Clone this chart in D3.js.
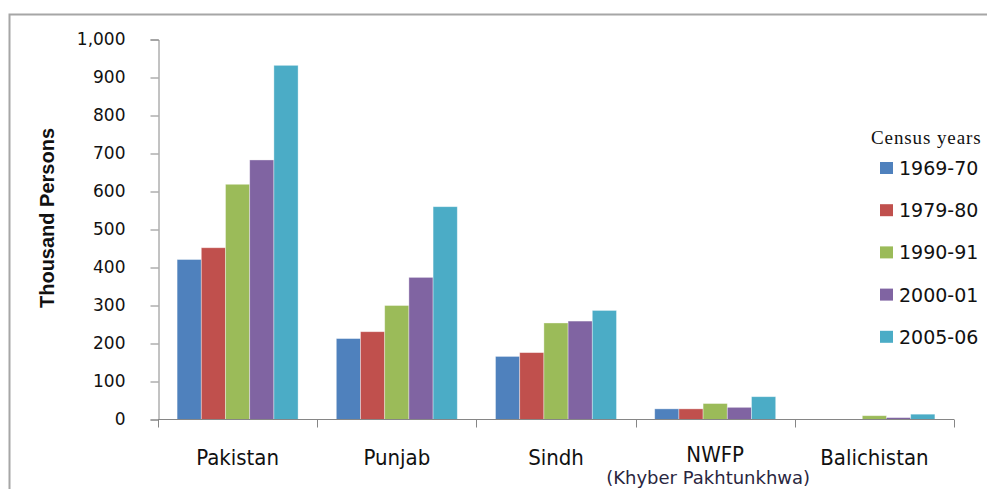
<!DOCTYPE html>
<html>
<head>
<meta charset="utf-8">
<script src="https://cdn.jsdelivr.net/npm/d3@7"></script>
<style>
  body { margin: 0; background: #fff; }
  svg { display: block; }
</style>
</head>
<body>
<div id="chart"></div>
<script>
// census data, thousand persons
const regions = ['Pakistan', 'Punjab', 'Sindh', 'NWFP', 'Balichistan'];
const years = ['1969-70', '1979-80', '1990-91', '2000-01', '2005-06'];
const colors = ['#4f81bd', '#c0504d', '#9bbb59', '#8064a2', '#4bacc6'];
const yTicks = [0, 100, 200, 300, 400, 500, 600, 700, 800, 900, 1000];

const v1969 = [421, 213, 166, 28, 0];
const v1979 = [452, 231, 176, 28, 0];
const v1990 = [619, 300, 254, 42, 10];
const v2000 = [683, 374, 259, 32, 5];
const v2005 = [932, 560, 287, 60, 14];
const seriesValues = [v1969, v1979, v1990, v2000, v2005];

const width = 987, height = 489;
const svg = d3.select('#chart').append('svg')
  .attr('width', width)
  .attr('height', height);

// outer frame (only top and left are visible in the picture)
svg.append('path')
  .attr('d', `M9.5,${height} V14.5 H${width}`)
  .attr('fill', 'none')
  .attr('stroke', '#a6a6a6')
  .attr('stroke-width', 2);

const x0 = d3.scaleBand()
  .domain(regions)
  .range([158, 954])
  .paddingInner(0.24)
  .paddingOuter(0.12);

const x1 = d3.scaleBand()
  .domain(years)
  .range([0, x0.bandwidth()]);

const y = d3.scaleLinear()
  .domain([0, 1000])
  .range([419.5, 39.5]);

// y axis
const yAxis = svg.append('g')
  .attr('transform', 'translate(158.5,0)')
  .call(d3.axisLeft(y).tickValues(yTicks).tickSize(8).tickPadding(25).tickFormat(d3.format(',')));
yAxis.select('.domain').attr('stroke', '#868686');
yAxis.selectAll('.tick line').attr('stroke', '#868686');
yAxis.selectAll('.tick text')
  .attr('font-family', 'DejaVu Sans')
  .attr('font-size', '17px')
  .attr('fill', '#111');

// bars
const rows = regions.map((r, i) => ({ region: r, vals: years.map((yr, j) => ({ year: yr, value: seriesValues[j][i], color: colors[j] })) }));

const groups = svg.append('g').selectAll('g')
  .data(rows)
  .join('g')
  .attr('transform', d => `translate(${x0(d.region)},0)`);

groups.selectAll('rect')
  .data(d => d.vals.filter(v => v.value > 0))
  .join('rect')
  .attr('x', d => x1(d.year))
  .attr('y', d => y(d.value))
  .attr('width', x1.bandwidth())
  .attr('height', d => y(0) - y(d.value))
  .attr('fill', d => d.color)
  .attr('stroke', 'rgba(255,255,255,0.45)')
  .attr('stroke-width', 0.8);

// x axis line with category boundary ticks
const step = x0.step();
const bounds = regions.map(r => x0(r) - x0.paddingOuter() * step).concat([954]);
svg.append('line')
  .attr('x1', 158).attr('x2', 954)
  .attr('y1', y(0)).attr('y2', y(0))
  .attr('stroke', '#868686');
svg.append('g').selectAll('line')
  .data(bounds)
  .join('line')
  .attr('x1', d => Math.round(d) + 0.5).attr('x2', d => Math.round(d) + 0.5)
  .attr('y1', y(0)).attr('y2', y(0) + 8)
  .attr('stroke', '#868686');

// category labels
svg.append('g').selectAll('text')
  .data(regions)
  .join('text')
  .attr('x', d => x0(d) + x0.bandwidth() / 2)
  .attr('y', d => d === 'NWFP' ? 462 : 465)
  .attr('text-anchor', 'middle')
  .attr('font-family', "'DejaVu Sans Condensed', 'DejaVu Sans'")
  .attr('font-stretch', 'condensed')
  .attr('font-size', '22px')
  .attr('fill', '#111')
  .text(d => d);

svg.append('text')
  .attr('x', x0('NWFP') + x0.bandwidth() / 2 - 7)
  .attr('y', 484)
  .attr('text-anchor', 'middle')
  .attr('font-family', 'DejaVu Sans')
  .attr('font-size', '18px')
  .attr('fill', '#2a2640')
  .text('(Khyber Pakhtunkhwa)');

// y axis title
svg.append('text')
  .attr('transform', 'translate(54,218) rotate(-90)')
  .attr('text-anchor', 'middle')
  .attr('font-family', "'Liberation Sans', Arial")
  .attr('font-weight', 'bold')
  .attr('font-size', '20px')
  .attr('fill', '#111')
  .text('Thousand  Persons');

// legend
svg.append('text')
  .attr('x', 871)
  .attr('y', 144)
  .attr('font-family', "'Liberation Serif', 'DejaVu Serif'")
  .attr('font-size', '19px')
  .attr('letter-spacing', '0.9px')
  .attr('fill', '#111')
  .text('Census years');

const legend = svg.append('g').selectAll('g')
  .data(years)
  .join('g')
  .attr('transform', (d, i) => `translate(880,${168 + i * 42.2})`);

legend.append('rect')
  .attr('x', 0).attr('y', -6)
  .attr('width', 13).attr('height', 12)
  .attr('fill', (d, i) => colors[i]);

legend.append('text')
  .attr('x', 19)
  .attr('y', 7)
  .attr('font-family', 'DejaVu Sans')
  .attr('font-size', '19px')
  .attr('fill', '#111')
  .text(d => d);
</script>
</body>
</html>
